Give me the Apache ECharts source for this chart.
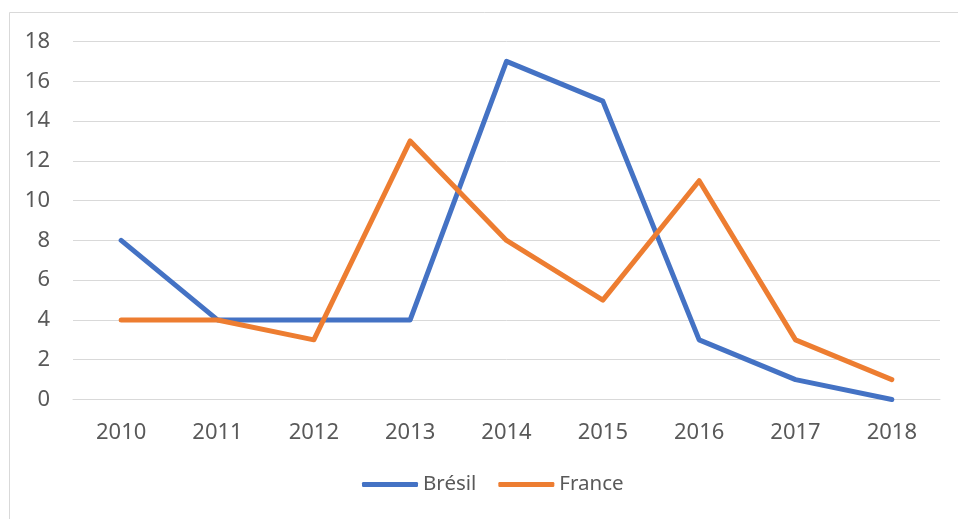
<!DOCTYPE html>
<html>
<head>
<meta charset="utf-8">
<script src="https://cdn.jsdelivr.net/npm/echarts@6/dist/echarts.min.js"></script>
<style>
html,body{margin:0;padding:0;background:#fff;}
#c{width:958px;height:519px;}
</style>
</head>
<body>
<div id="c"></div>
<script>
const categories = ['2010','2011','2012','2013','2014','2015','2016','2017','2018'];
const bresil = [8,4,4,4,17,15,3,1,0];
const france = [4,4,3,13,8,5,11,3,1];
const seriesNames = ['Brésil','France'];

const chart = echarts.init(document.getElementById('c'));
const font = 'Noto Sans';
chart.setOption({
  animation: false,
  backgroundColor: '#fff',
  graphic: [{
    type: 'rect', silent: true,
    shape: {x: 9.5, y: 12.5, width: 1000, height: 600},
    style: {fill: 'none', stroke: '#d9d9d9', lineWidth: 1}
  }],
  grid: {left: 73, right: 18, top: 41.5, bottom: 119.5, containLabel: false},
  legend: {
    data: seriesNames,
    bottom: 19,
    left: 357,
    itemWidth: 56,
    itemHeight: 5,
    itemGap: 22,
    icon: 'roundRect',
    textStyle: {color: '#595959', fontSize: 20.5, fontFamily: font}
  },
  xAxis: {
    type: 'category',
    data: categories,
    boundaryGap: true,
    axisLine: {show: true, lineStyle: {color: '#d9d9d9', width: 1}},
    axisTick: {show: false},
    axisLabel: {color: '#595959', fontSize: 22, fontFamily: font, margin: 22}
  },
  yAxis: {
    type: 'value',
    min: 0, max: 18, interval: 2,
    axisLine: {show: false},
    axisTick: {show: false},
    splitLine: {lineStyle: {color: '#d9d9d9', width: 1}},
    axisLabel: {color: '#595959', fontSize: 22, fontFamily: font, margin: 23}
  },
  series: [
    {name: seriesNames[0], type: 'line', data: bresil, symbol: 'none',
     lineStyle: {color: '#4472C4', width: 5, cap: 'round', join: 'round'}, itemStyle: {color: '#4472C4'}},
    {name: seriesNames[1], type: 'line', data: france, symbol: 'none',
     lineStyle: {color: '#ED7D31', width: 5, cap: 'round', join: 'round'}, itemStyle: {color: '#ED7D31'}}
  ]
});
</script>
</body>
</html>
